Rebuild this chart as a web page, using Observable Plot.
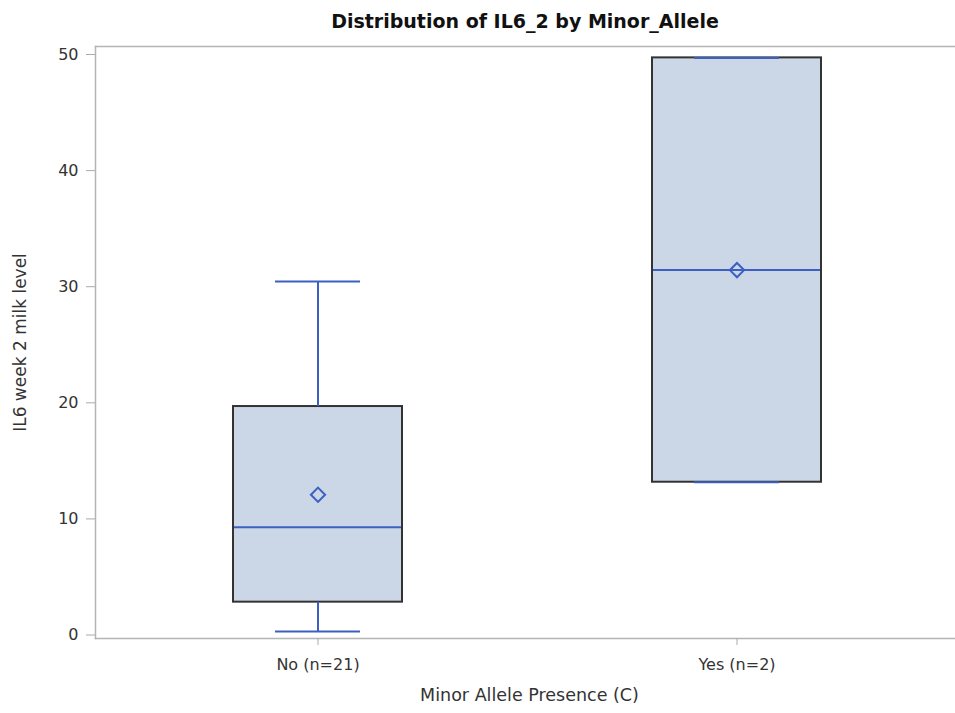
<!DOCTYPE html>
<html>
<head>
<meta charset="utf-8">
<script src="https://cdn.jsdelivr.net/npm/d3@7"></script>
<script src="https://cdn.jsdelivr.net/npm/@observablehq/plot@0.6"></script>
<style>
  html, body { margin: 0; padding: 0; background: #fff; overflow: hidden; }
  #title {
    width: 955px; height: 40px; box-sizing: border-box;
    padding: 10px 0 0 95px; text-align: center;
    font: bold 19px/22px "DejaVu Sans", sans-serif; color: #111;
  }
</style>
</head>
<body>
<div id="title">Distribution of IL6_2 by Minor_Allele</div>
<div id="chart"></div>
<script>
// Summary statistics of IL6 week-2 milk level per minor allele group
const groups  = ["No (n=21)", "Yes (n=2)"];
const minimum = [0.30, 13.16];
const q1      = [2.83, 13.16];
const median  = [9.29, 31.43];
const mean    = [12.08, 31.43];
const q3      = [19.68, 49.71];
const maximum = [30.45, 49.71];
const yTicks  = [0, 10, 20, 30, 40, 50];
const xTitle  = "Minor Allele Presence (C)";
const yTitle  = "IL6 week 2 milk level";

const rows = groups.map((g, i) => ({
  group: g, min: minimum[i], q1: q1[i], median: median[i],
  mean: mean[i], q3: q3[i], max: maximum[i]
}));

const blue = "#3b60c2";
const axisGray = "#b4b4b4";
const font = "DejaVu Sans, sans-serif";

const chart = Plot.plot({
  width: 955,
  height: 673,
  marginLeft: 95,
  marginRight: 0,
  marginTop: 6,
  marginBottom: 75,
  style: { fontFamily: font, fontSize: "16px", color: "#333", overflow: "hidden", background: "#fff" },
  x: { type: "band", domain: groups, range: [95, 959], paddingInner: 0.597, paddingOuter: 0.3286 },
  y: { domain: [-0.3, 50.69] },
  marks: [
    // open frame: top, left and bottom sides only
    Plot.frame({ anchor: "top", stroke: axisGray, strokeWidth: 1.5 }),
    Plot.frame({ anchor: "left", stroke: axisGray, strokeWidth: 1.5 }),
    Plot.frame({ anchor: "bottom", stroke: axisGray, strokeWidth: 1.5 }),
    // box from Q1 to Q3
    Plot.barY(rows, { x: "group", y1: "q1", y2: "q3", fill: "#cbd6e6", stroke: "#333", strokeWidth: 2 }),
    // whiskers
    Plot.ruleX(rows, { x: "group", y1: "q3", y2: "max", stroke: blue, strokeWidth: 2 }),
    Plot.ruleX(rows, { x: "group", y1: "min", y2: "q1", stroke: blue, strokeWidth: 2 }),
    Plot.tickY(rows, { x: "group", y: "max", stroke: blue, strokeWidth: 2, insetLeft: 42, insetRight: 42 }),
    Plot.tickY(rows, { x: "group", y: "min", stroke: blue, strokeWidth: 2, insetLeft: 42, insetRight: 42 }),
    // median line and mean marker
    Plot.tickY(rows, { x: "group", y: "median", stroke: blue, strokeWidth: 2, insetLeft: 1, insetRight: 1 }),
    Plot.dot(rows, { x: "group", y: "mean", symbol: "diamond2", r: 6.4, stroke: blue, strokeWidth: 2, fill: "none" }),
    // axes
    Plot.axisY({ ticks: yTicks, tickSize: 9, tickPadding: 8, stroke: "#aaa", label: null, fill: "#333" }),
    Plot.axisX({ tickSize: 7, tickPadding: 13, stroke: "#aaa", label: null, fill: "#333" }),
    Plot.text([yTitle], { frameAnchor: "left", textAnchor: "middle", rotate: -90, dx: -75, fontSize: 17, fill: "#333" }),
    Plot.text([xTitle], { frameAnchor: "bottom", textAnchor: "middle", dy: 62, dx: 4, fontSize: 17.5, fill: "#333" })
  ]
});

document.getElementById("chart").appendChild(chart);
</script>
</body>
</html>
